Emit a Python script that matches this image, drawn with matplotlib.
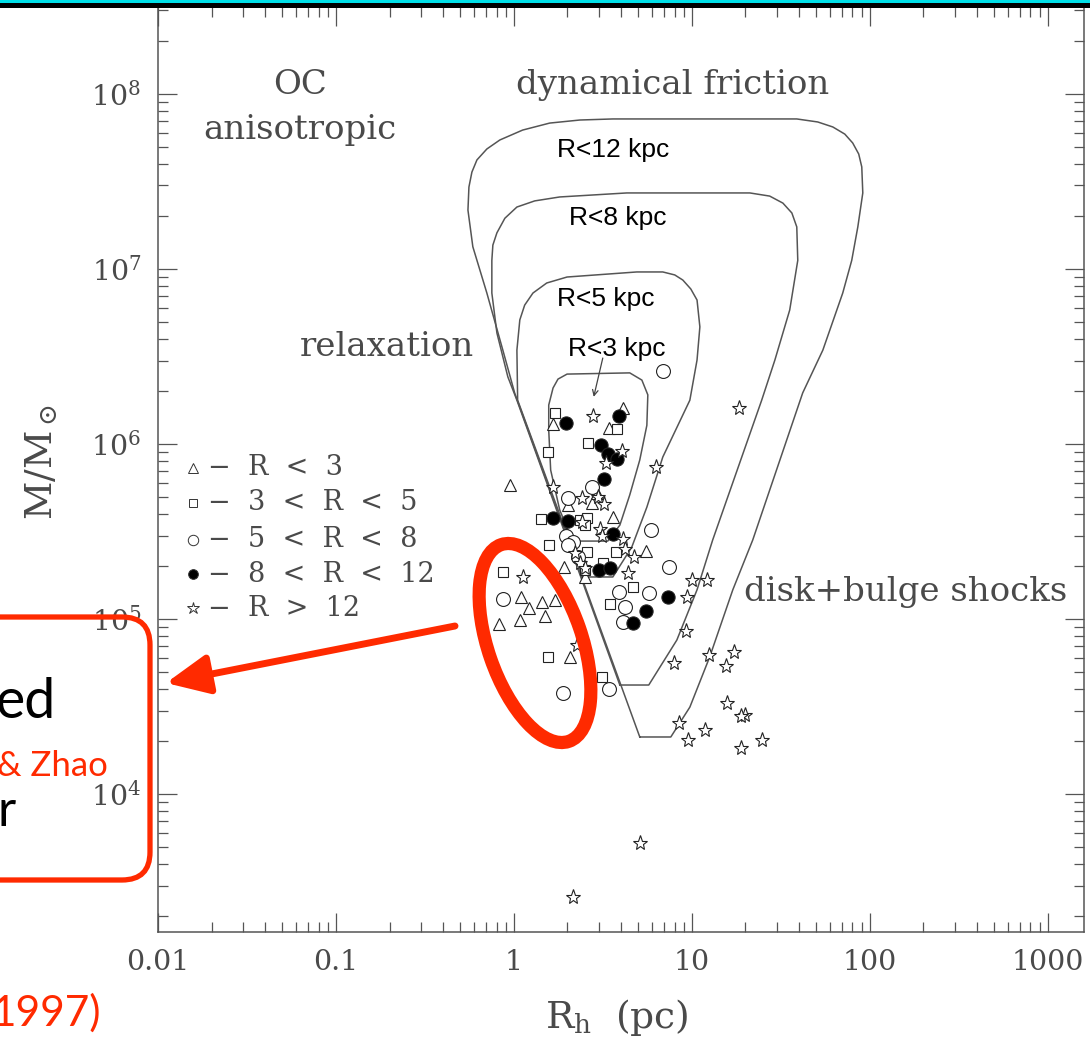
import matplotlib
matplotlib.use("Agg")
import matplotlib.pyplot as plt
from matplotlib.patches import Ellipse, FancyBboxPatch, FancyArrowPatch, Rectangle
from matplotlib.ticker import LogLocator, FixedLocator, FuncFormatter, NullFormatter

plt.rcParams['font.family'] = ['DejaVu Serif']
plt.rcParams['mathtext.fontset'] = 'dejavuserif'

# globular clusters: half-mass radius (pc) and mass (Msun), by galactocentric R (kpc)
tri_rh = [1.66, 4.09, 3.42, 0.95, 2.01, 2.74, 3.60, 2.93, 5.52, 1.91, 2.51, 1.96, 2.06,
          1.09, 1.21, 1.44, 1.70, 1.49, 0.82, 1.08]
tri_m = [1.30e6, 1.61e6, 1.23e6, 5.83e5, 4.48e5, 4.60e5, 3.83e5, 5.25e5, 2.45e5, 1.98e5, 1.74e5,
         3.10e5, 6.07e4, 1.34e5, 1.16e5, 1.25e5, 1.28e5, 1.04e5, 9.36e4, 9.87e4]

sq_rh = [1.70, 3.79, 2.60, 1.55, 1.42, 2.35, 2.57, 2.51, 1.57, 3.74, 2.57, 3.16, 2.51, 4.66,
         3.46, 0.87, 1.55, 3.12]
sq_m = [1.50e6, 1.22e6, 1.01e6, 9.0e5, 3.73e5, 3.68e5, 3.78e5, 3.44e5, 2.65e5, 2.42e5, 2.42e5,
        2.09e5, 1.91e5, 1.52e5, 1.22e5, 1.86e5, 6.07e4, 4.66e4]

circ_rh = [6.87, 2.74, 2.01, 5.88, 1.96, 2.14, 2.01, 2.29, 7.43, 3.89, 5.73, 4.20, 4.09, 0.87,
           1.88, 3.42]
circ_m = [2.61e6, 5.68e5, 4.91e5, 3.23e5, 2.98e5, 2.76e5, 2.65e5, 2.26e5, 1.98e5, 1.43e5, 1.41e5,
          1.17e5, 9.62e4, 1.30e5, 3.78e4, 3.98e4]

dot_rh = [1.96, 3.89, 3.08, 3.37, 3.79, 3.20, 1.66, 2.01, 3.60, 3.00, 3.46, 7.33, 5.52, 4.66]
dot_m = [1.32e6, 1.45e6, 9.87e5, 8.77e5, 8.21e5, 6.31e5, 3.78e5, 3.63e5, 3.06e5, 1.91e5, 1.96e5,
         1.34e5, 1.11e5, 9.49e4]

star_rh = [2.78, 18.4, 4.04, 3.29, 6.28, 1.66, 2.41, 2.96, 3.20, 2.41, 3.04, 3.12, 4.09, 4.20,
           4.72, 4.37, 2.35, 2.20, 1.12, 2.26, 10.0, 12.1, 9.37, 9.25, 7.92, 12.5, 17.2, 15.5,
           15.7, 19.8, 18.9, 8.45, 11.8, 9.50, 24.7, 18.9, 5.10, 2.14, 2.51]
star_m = [1.45e6, 1.61e6, 9.12e5, 7.79e5, 7.39e5, 5.68e5, 4.91e5, 4.98e5, 4.54e5, 3.58e5, 3.27e5,
          2.98e5, 2.87e5, 2.51e5, 2.26e5, 1.83e5, 2.09e5, 2.38e5, 1.74e5, 7.10e4, 1.67e5, 1.67e5,
          1.34e5, 8.53e4, 5.61e4, 6.22e4, 6.48e4, 5.39e4, 3.31e4, 2.83e4, 2.78e4, 2.55e4, 2.32e4,
          2.04e4, 2.04e4, 1.83e4, 5.25e3, 2.58e3, 1.96e5]

# survival boundaries (closed curves) for clusters inside R
r12_rh = [5.10, 1.01, 0.867, 0.705, 0.588, 0.552, 0.559, 0.581, 0.620, 0.705, 0.834, 1.12, 1.59,
          2.35, 3.60, 38.9, 51.0, 62.0, 72.4, 80.2, 86.7, 90.2, 91.4, 85.7, 79.2, 70.5, 54.5,
          42.0, 22.0, 17.0, 12.6, 9.75, 7.62, 5.10]
r12_m = [2.12e4, 1.96e6, 3.44e6, 7.29e6, 1.34e7, 2.17e7, 2.94e7, 3.58e7, 4.20e7, 4.85e7, 5.46e7,
         6.22e7, 6.82e7, 7.10e7, 7.20e7, 7.20e7, 6.92e7, 6.48e7, 5.90e7, 5.25e7, 4.54e7, 3.83e7,
         2.72e7, 1.74e7, 1.12e7, 7.29e6, 3.44e6, 1.96e6, 2.83e5, 1.47e5, 6.07e4, 3.14e4, 2.12e4,
         2.12e4]
r8_rh = [3.94, 1.04, 0.925, 0.803, 0.752, 0.752, 0.762, 0.803, 0.890, 1.04, 1.31, 1.81, 4.31, 21.2,
         27.4, 32.5, 36.5, 38.9, 39.4, 35.5, 29.3, 24.7, 13.1, 10.7, 8.24, 5.73, 3.94]
r8_m = [4.20e4, 1.78e6, 2.42e6, 4.31e6, 7.29e6, 1.12e7, 1.37e7, 1.61e7, 1.95e7, 2.26e7, 2.45e7,
        2.58e7, 2.72e7, 2.72e7, 2.61e7, 2.38e7, 2.09e7, 1.74e7, 1.12e7, 5.83e6, 3.02e6, 1.78e6,
        2.83e5, 1.47e5, 7.59e4, 4.20e4, 4.20e4]
r5_rh = [2.44, 1.05, 1.04, 1.08, 1.15, 1.28, 1.53, 1.99, 4.91, 6.87, 8.02, 8.90, 9.87, 10.7, 11.1,
         10.7, 9.75, 6.87, 5.59, 4.60, 3.60, 2.44]
r5_m = [1.74e5, 1.78e6, 3.44e6, 5.12e6, 6.22e6, 7.29e6, 8.32e6, 9.0e6, 9.62e6, 9.62e6, 9.25e6,
        8.65e6, 7.69e6, 6.65e6, 4.67e6, 3.02e6, 1.78e6, 8.43e5, 4.36e5, 2.58e5, 1.74e5, 1.74e5]
r3_rh = [2.14, 1.81, 1.61, 1.57, 1.57, 1.66, 1.77, 1.99, 4.48, 5.24, 5.66, 5.59, 5.10, 4.48, 3.94,
         3.37, 2.14]
r3_m = [2.79e5, 4.20e5, 7.10e5, 1.20e6, 1.67e6, 2.09e6, 2.35e6, 2.51e6, 2.55e6, 2.32e6, 1.91e6,
        1.28e6, 8.11e5, 5.12e5, 3.44e5, 2.79e5, 2.79e5]

xticks = [0.01, 0.1, 1, 10, 100, 1000]
legend_labels = ["\u2212  R  <  3", "\u2212  3  <  R  <  5", "\u2212  5  <  R  <  8",
                 "\u2212  8  <  R  <  12", "\u2212  R  >  12"]

GRAY = '#4a4a4a'
RED = '#ff2a00'

fig = plt.figure(figsize=(10.9, 10.49), dpi=100)
ax = fig.add_axes([158 / 1090, 1 - 932 / 1049, 926 / 1090, 925 / 1049])
ax.set_xscale('log')
ax.set_yscale('log')
ax.set_xlim(0.01, 1600)
ax.set_ylim(1.63e3, 3.14e8)

for rh, m in [(r12_rh, r12_m), (r8_rh, r8_m), (r5_rh, r5_m), (r3_rh, r3_m)]:
    ax.plot(rh, m, color='#555555', lw=1.1, solid_joinstyle='round')

mk = dict(ls='none', mec='#222222', mew=0.8)
ax.plot(tri_rh, tri_m, marker='^', ms=8, mfc='white', **mk)
ax.plot(sq_rh, sq_m, marker='s', ms=7.5, mfc='white', **mk)
ax.plot(circ_rh, circ_m, marker='o', ms=10, mfc='white', **mk)
ax.plot(dot_rh, dot_m, marker='o', ms=9.5, mfc='black', **mk)
ax.plot(star_rh, star_m, marker='*', ms=11, mfc='white', **mk)

ax.annotate('', xy=(2.81, 1.86e6), xytext=(3.16, 3.10e6),
            arrowprops=dict(arrowstyle='->', color='#444444', lw=0.9, shrinkA=0, shrinkB=0))

# region labels
serif = dict(color=GRAY, fontsize=24.5, ha='center', va='center', transform=ax.transAxes)
ax.text(0.153, 0.916, 'OC', **serif)
ax.text(0.153, 0.867, 'anisotropic', **serif)
ax.text(0.247, 0.632, 'relaxation', **serif)
ax.text(0.556, 0.916, 'dynamical friction', **serif)
ax.text(0.807, 0.368, 'disk+bulge shocks', **serif)

sans = dict(color='black', fontsize=19, ha='center', va='center', transform=ax.transAxes,
            family='Liberation Sans')
ax.text(0.491, 0.845, 'R<12 kpc', **sans)
ax.text(0.496, 0.772, 'R<8 kpc', **sans)
ax.text(0.483, 0.684, 'R<5 kpc', **sans)
ax.text(0.495, 0.630, 'R<3 kpc', **sans)

# hand-made legend
leg_y = [0.502, 0.464, 0.424, 0.387, 0.350]
leg_style = [('^', 6.5, 'white'), ('s', 6, 'white'), ('o', 7.5, 'white'), ('o', 7, 'black'),
             ('*', 9, 'white')]
for yy, (m, s, fc), lab in zip(leg_y, leg_style, legend_labels):
    ax.plot([0.038], [yy], marker=m, ms=s, mfc=fc, mec='#333333', mew=0.7,
            transform=ax.transAxes, clip_on=False)
    ax.text(0.054, yy, lab, color=GRAY, fontsize=19.5, ha='left', va='center',
            transform=ax.transAxes)

# axes styling
for sp in ax.spines.values():
    sp.set_color('#555555')
    sp.set_linewidth(1.1)
ax.tick_params(which='both', direction='in', top=True, right=True, colors='#555555',
               labelcolor=GRAY, labelsize=20.5)
ax.tick_params(which='major', length=14, width=0.9, pad=12)
ax.tick_params(which='minor', length=7, width=0.9)
ax.xaxis.set_major_locator(FixedLocator(xticks))
ax.xaxis.set_major_formatter(FuncFormatter(lambda v, p: '%g' % v))
ax.xaxis.set_minor_locator(LogLocator(base=10, subs=range(2, 10), numticks=20))
ax.xaxis.set_minor_formatter(NullFormatter())
ax.yaxis.set_major_locator(LogLocator(base=10, numticks=20))
ax.yaxis.set_minor_locator(LogLocator(base=10, subs=range(2, 10), numticks=20))
ax.yaxis.set_minor_formatter(NullFormatter())

fig.text(617 / 1090, 1 - 1018 / 1049, r'$\mathrm{R_h}$  (pc)', color=GRAY, fontsize=27,
         ha='center', va='center')
fig.text(42 / 1090, 1 - 462 / 1049, r'$\mathrm{M/M_\odot}$', color=GRAY, fontsize=27,
         ha='center', va='center', rotation=90)

# slide overlay, in pixel coordinates
ov = fig.add_axes([0, 0, 1, 1], zorder=10)
ov.set_xlim(0, 1090)
ov.set_ylim(1049, 0)
ov.axis('off')
ov.patch.set_alpha(0)
ov.add_patch(Rectangle((0, 0), 1090, 3, color='#00e0e8', lw=0))
ov.add_patch(Rectangle((0, 3), 1090, 5, color='black', lw=0))
ov.add_patch(FancyBboxPatch((-60, 617), 210, 263, boxstyle='round,pad=0,rounding_size=28',
                            fill=False, ec=RED, lw=3.8))
ov.add_patch(Ellipse((535, 643), 208, 94, angle=71, fill=False, ec=RED, lw=9.5))
ov.add_patch(FancyArrowPatch((455, 626), (166, 683), arrowstyle='-|>,head_length=1.3,head_width=0.6',
                             mutation_scale=20, color=RED, lw=5, shrinkA=0, shrinkB=0))
slide = dict(family='Lato', ha='right', va='baseline')
ov.text(56, 718, 'ed', color='black', fontsize=40, **slide)
ov.text(108, 776, '(Gnedin & Zhao', color=RED, fontsize=25, **slide)
ov.text(16, 826, 'r', color='black', fontsize=36, **slide)
ov.text(101, 1026, '1997)', color=RED, fontsize=30.5, **slide)

fig.savefig('out.png', dpi=100)
